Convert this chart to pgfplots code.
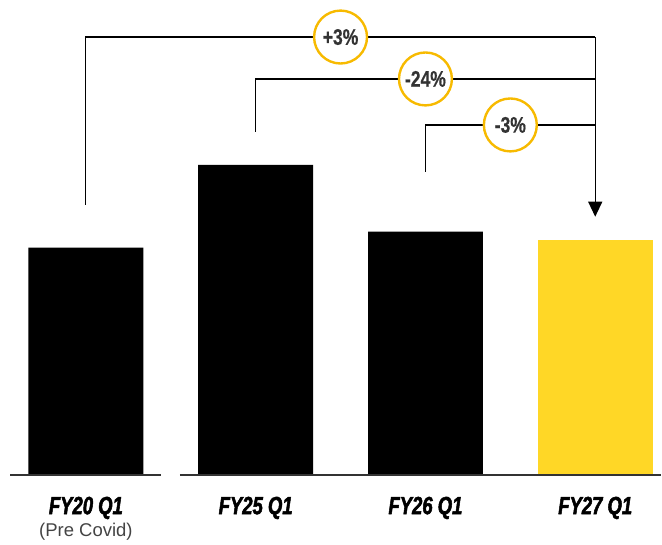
\documentclass[border=0pt]{standalone}
\usepackage{fontspec}
\setmainfont{Liberation Sans}
\newfontfamily\condfont[FakeStretch=0.74,FakeBold=2]{Liberation Sans}
\newfontfamily\ringfont[FakeStretch=0.78,FakeBold=0.6]{Liberation Sans}
\usepackage{pgfplots}
\pgfplotsset{compat=1.18}
\usetikzlibrary{arrows.meta}
\definecolor{barblack}{HTML}{000000}
\definecolor{baryellow}{HTML}{FFD726}
\definecolor{ringgold}{HTML}{F7BA00}
\definecolor{txtgray}{HTML}{333333}
\definecolor{subgray}{HTML}{444444}
\tikzset{ring/.style={circle, draw=ringgold, line width=2.4pt, fill=white, minimum size=53pt, inner sep=0pt, text=txtgray, font=\ringfont\fontsize{22.5}{22.5}\selectfont\bfseries},
  catlab/.style={font=\condfont\fontsize{25}{25}\selectfont\bfseries\itshape, text=black}}
\begin{document}
\begin{tikzpicture}
\begin{axis}[
  scale only axis,
  width=662pt, height=476pt,
  xmin=-0.5059, xmax=3.388,
  ymin=0, ymax=208.77,
  hide axis,
  clip=false,
  ybar, bar width=115pt, bar shift=0pt,
]
\path (axis cs:-0.5059,-30.26) rectangle (axis cs:3.388,208.77);
\addplot[fill=barblack, draw=none] coordinates {(0,100) (1,136.4) (2,107)};
\addplot[fill=baryellow, draw=none] coordinates {(3,103.5)};
% baseline
\draw[txtgray, line width=1.8pt] (axis cs:-0.447,0) -- (axis cs:0.441,0);
\draw[txtgray, line width=1.8pt] (axis cs:0.553,0) -- (axis cs:3.388,0);
% connectors
\draw[black, line width=1.2pt] (axis cs:0,118.9) -- (axis cs:0,192.5) -- (axis cs:3,192.5);
\draw[black, line width=1.2pt, -{Triangle[width=14pt,length=15pt]}] (axis cs:3,192.5) -- (axis cs:3,113.6);
\draw[black, line width=1.2pt] (axis cs:1,150.9) -- (axis cs:1,174.1) -- (axis cs:3,174.1);
\draw[black, line width=1.2pt] (axis cs:2,133.3) -- (axis cs:2,153.9) -- (axis cs:3,153.9);
% rings
\node[ring] at (axis cs:1.5,192.5) {+3\%};
\node[ring] at (axis cs:2.0,174.1) {-24\%};
\node[ring] at (axis cs:2.5,153.9) {-3\%};
% category labels
\node[catlab] at (axis cs:0,-14.3) {FY20 Q1};
\node[catlab] at (axis cs:1,-14.3) {FY25 Q1};
\node[catlab] at (axis cs:2,-14.3) {FY26 Q1};
\node[catlab] at (axis cs:3,-14.3) {FY27 Q1};
\node[font=\fontsize{18.5}{18.5}\selectfont, text=subgray] at (axis cs:0,-24.9) {(Pre Covid)};
\end{axis}
\end{tikzpicture}
\end{document}
